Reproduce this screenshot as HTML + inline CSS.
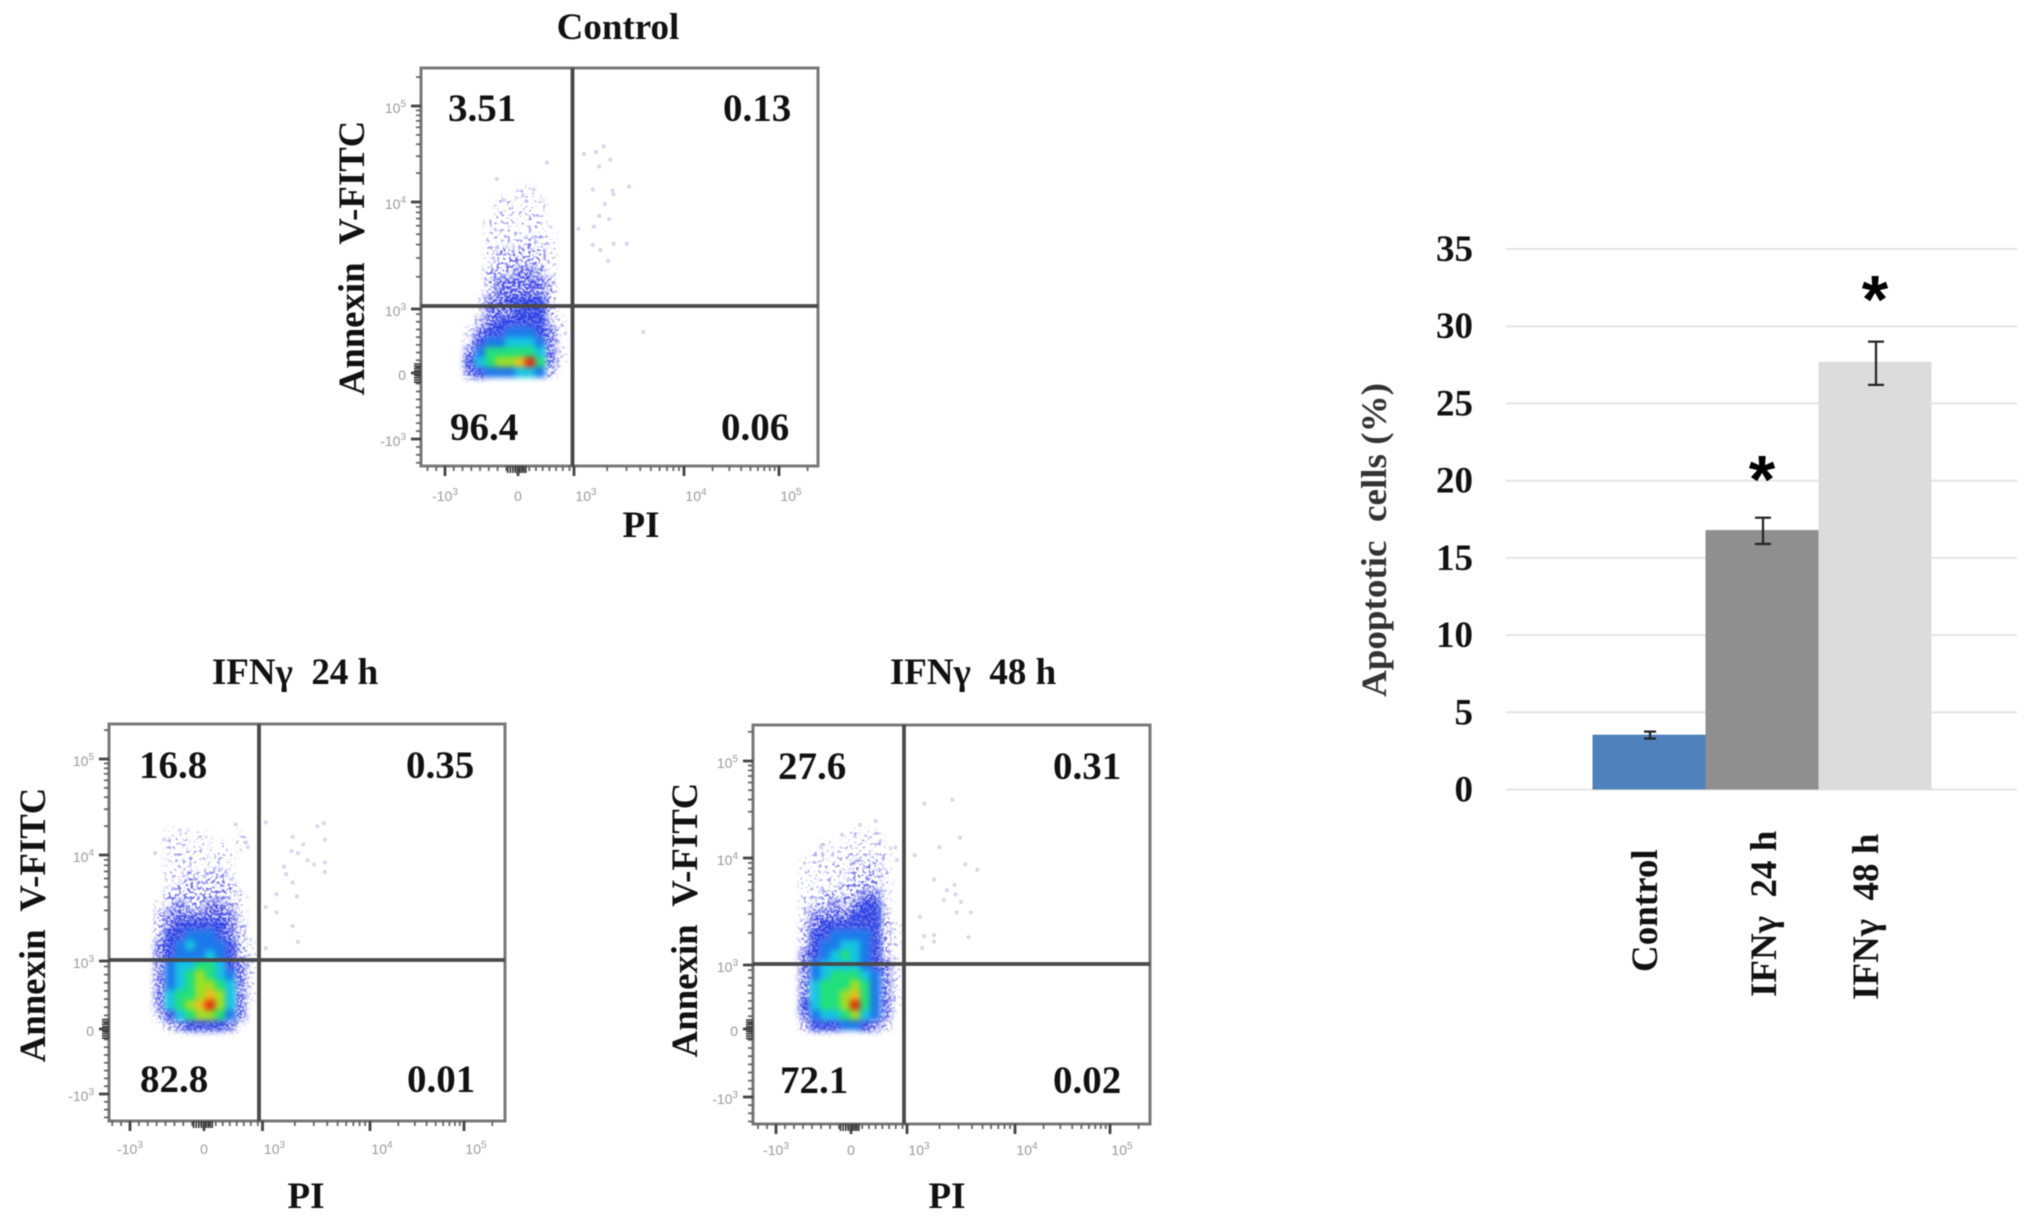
<!DOCTYPE html>
<html lang="en">
<head>
<meta charset="utf-8">
<title>Apoptosis flow cytometry and bar chart</title>
<style>
html,body{margin:0;padding:0;background:#fff;}
#figure{display:block;width:2031px;height:1226px;filter:blur(0.6px);}
text{font-family:"Liberation Serif","Noto Serif CJK SC",serif;font-weight:bold;fill:#111;white-space:pre;}
</style>
</head>
<body>
<svg id="figure" xmlns="http://www.w3.org/2000/svg" width="2031" height="1226" viewBox="0 0 2031 1226">
<defs>
<filter id="speckle-sparse" x="-30%" y="-30%" width="160%" height="160%" color-interpolation-filters="sRGB">
<feGaussianBlur in="SourceGraphic" stdDeviation="3" result="soft"/>
<feTurbulence type="fractalNoise" baseFrequency="0.28" numOctaves="2" seed="11" result="noise"/>
<feColorMatrix in="noise" type="matrix" values="0 0 0 0 0  0 0 0 0 0  0 0 0 0 0  8 0 0 0 -4.6" result="mask"/>
<feComposite in="soft" in2="mask" operator="in"/>
</filter>
<filter id="speckle-mid" x="-30%" y="-30%" width="160%" height="160%" color-interpolation-filters="sRGB">
<feGaussianBlur in="SourceGraphic" stdDeviation="3" result="soft"/>
<feTurbulence type="fractalNoise" baseFrequency="0.32" numOctaves="2" seed="5" result="noise"/>
<feColorMatrix in="noise" type="matrix" values="0 0 0 0 0  0 0 0 0 0  0 0 0 0 0  8 0 0 0 -4.0" result="mask"/>
<feComposite in="soft" in2="mask" operator="in"/>
</filter>
<filter id="speckle-dense" x="-30%" y="-30%" width="160%" height="160%" color-interpolation-filters="sRGB">
<feGaussianBlur in="SourceGraphic" stdDeviation="3.4" result="soft"/>
<feTurbulence type="fractalNoise" baseFrequency="0.38" numOctaves="2" seed="7" result="noise"/>
<feColorMatrix in="noise" type="matrix" values="0 0 0 0 0  0 0 0 0 0  0 0 0 0 0  7 0 0 0 -2.9" result="mask"/>
<feComposite in="soft" in2="mask" operator="in"/>
</filter>
<filter id="smooth" x="-20%" y="-20%" width="140%" height="140%" color-interpolation-filters="sRGB">
<feGaussianBlur stdDeviation="3"/>
</filter>
</defs>
<rect x="0" y="0" width="2031" height="1226" fill="#fff"/>
<g id="flow-layer"></g>
<g id="bar-layer"></g>
</svg>
<script>
// ---- Flow cytometry data (density levels 0-10, points in axis units: 1 = 10^3, 2 = 10^4, 3 = 10^5) ----
const flowTickUnits = [-1, 0, 1, 2, 3];
const flowTickBase = ["-10", "0", "10", "10", "10"];
const flowTickExp = ["3", "", "3", "4", "5"];

const controlDensity = [
[0,0,0,0,0,0,0,0,0,0],
[0,0,0,0,0,0,0,0,0,0],
[0,0,0,0,0,1,1,0,0,0],
[0,0,0,1,1,0,1,1,0,0],
[0,0,0,1,1,1,1,1,0,0],
[0,0,1,1,1,1,1,1,0,0],
[0,0,1,1,1,1,1,1,1,0],
[0,0,1,1,1,1,2,1,1,0],
[0,0,1,2,2,2,2,2,1,0],
[0,0,1,2,2,2,2,2,1,0],
[0,0,2,2,2,3,3,2,1,0],
[0,0,2,3,3,3,3,3,2,0],
[0,0,2,3,3,3,3,3,2,0],
[0,1,3,3,4,4,4,4,2,0],
[0,1,3,3,3,4,4,4,2,0],
[0,2,3,4,4,4,4,4,2,1],
[1,3,4,4,5,5,5,4,3,1],
[2,4,5,5,6,6,6,5,3,1],
[3,5,7,7,7,7,7,6,3,1],
[4,6,7,8,8,9,10,7,3,1],
[3,4,5,5,5,6,6,5,2,0]
];
const controlPointsX = [1.09,1.20,1.27,1.33,1.23,1.50,1.17,1.35,1.36,1.28,1.23,1.32,1.18,1.04,1.17,1.36,1.24,1.48,1.31,1.63,0.52,-0.29,0.28,0.09,-0.20];
const controlPointsY = [2.50,2.52,2.58,2.44,2.37,2.16,2.13,2.12,2.08,1.98,1.87,1.84,1.77,1.75,1.60,1.61,1.55,1.61,1.45,0.64,2.41,2.24,2.13,2.07,2.02];

const ifn24Density = [
[0,1,1,1,1,0,0,0,1,0],
[0,1,1,1,1,1,1,0,1,0],
[0,1,1,1,1,1,1,1,0,0],
[0,1,1,1,1,1,1,1,0,0],
[0,1,1,2,1,2,2,1,0,0],
[0,1,2,2,2,2,2,2,0,0],
[0,2,2,2,2,2,2,2,1,0],
[1,2,3,2,2,3,3,2,1,0],
[2,3,3,3,3,3,3,3,1,0],
[2,3,4,4,4,4,4,3,2,0],
[2,4,4,5,5,5,4,3,2,0],
[3,4,5,6,5,5,5,4,2,1],
[3,4,5,5,5,6,5,4,2,1],
[3,5,6,6,7,7,6,4,3,1],
[3,5,6,7,8,7,6,5,3,1],
[3,5,6,7,8,8,7,6,3,1],
[3,6,7,7,8,9,8,6,3,1],
[3,6,7,8,9,10,8,6,3,0],
[2,4,6,7,8,8,7,5,3,0],
[0,2,3,4,4,4,4,3,1,0]
];
const ifn24PointsX = [1.03,1.57,1.51,1.28,1.38,1.27,1.33,1.42,1.48,1.20,1.22,1.28,1.13,1.32,1.03,1.13,1.28,1.33,1.03,1.58,1.58,1.58,0.54,0.75,0.72,-0.66,-0.54];
const ifn24PointsY = [2.34,2.33,2.30,2.19,2.11,2.04,2.02,1.95,1.91,1.89,1.82,1.74,1.63,1.61,1.51,1.46,1.33,1.18,1.12,2.16,1.93,1.84,2.32,2.08,2.13,2.02,2.16];

const ifn48Density = [
[0,0,0,0,0,1,1,1,0,0],
[0,0,1,0,1,1,1,1,1,0],
[0,1,1,1,1,1,1,1,1,0],
[1,1,1,1,1,2,2,2,1,0],
[1,1,1,1,1,2,2,2,1,0],
[1,1,1,1,2,2,2,2,1,0],
[1,1,2,2,2,2,3,3,1,0],
[1,2,2,3,2,3,4,4,1,0],
[1,3,3,3,3,4,4,4,2,0],
[2,3,4,4,4,4,4,4,2,1],
[2,4,4,5,5,5,5,4,2,1],
[2,4,5,5,6,6,5,4,2,1],
[3,4,5,6,7,6,5,4,2,1],
[3,5,6,6,6,6,5,4,3,1],
[3,5,6,7,7,7,6,5,3,1],
[3,6,7,7,7,8,7,5,3,1],
[3,6,7,7,8,9,7,5,3,1],
[4,6,7,7,8,10,7,5,3,1],
[3,5,6,6,7,8,6,5,3,0],
[2,4,4,4,5,5,4,3,2,0]
];
const ifn48PointsX = [1.16,1.42,1.49,1.30,1.07,1.54,1.65,1.25,1.44,1.37,1.45,1.34,1.50,1.46,1.59,1.12,1.16,1.25,1.57,1.14,1.25,0.44,0.16,-0.12,-0.40,0.79,0.82];
const ifn48PointsY = [2.56,2.60,2.21,2.11,2.03,1.94,1.89,1.80,1.75,1.70,1.66,1.61,1.59,1.49,1.49,1.45,1.27,1.28,1.26,1.16,1.22,2.38,2.34,2.24,2.11,2.11,1.98];

const controlQuadrants = ["3.51", "0.13", "96.4", "0.06"];
const ifn24Quadrants = ["16.8", "0.35", "82.8", "0.01"];
const ifn48Quadrants = ["27.6", "0.31", "72.1", "0.02"];

// ---- Bar chart data ----
const barCategories = ["Control", "IFNγ  24 h", "IFNγ  48 h"];
const barValues = [3.55, 16.8, 27.7];
const barErrLow = [3.3, 15.9, 26.2];
const barErrHigh = [3.75, 17.6, 29.0];
const barStars = ["", "*", "*"];
const barStarLevels = [0, 18.57, 30.25];
const barTicks = [0, 5, 10, 15, 20, 25, 30, 35];

const densityColors = ["none","#a4a4f2","#7474ec","#4a50e6","#2b3fe2","#1c78ea","#16c4e4","#22e07c","#9ee024","#f0bc1e","#e62c10"];
const NS = "http://www.w3.org/2000/svg";

function mk(parent, tag, attrs, txt) {
  const el = document.createElementNS(NS, tag);
  for (const k in attrs) el.setAttribute(k, attrs[k]);
  if (txt !== undefined) el.textContent = txt;
  parent.appendChild(el);
  return el;
}
function piecewise(units, pixels) {
  return function (u) {
    let i = 0;
    while (i < units.length - 2 && u > units[i + 1]) i++;
    return pixels[i] + (u - units[i]) * (pixels[i + 1] - pixels[i]) / (units[i + 1] - units[i]);
  };
}
function minorUnits() {
  const out = [];
  for (let d = 1; d <= 2; d++) for (let k = 2; k < 10; k++) out.push(d + Math.log10(k));
  for (let k = 2; k < 6; k++) out.push(3 + Math.log10(k));
  for (let t = -1.6; t < 1; t += 0.12) out.push(t);
  return out;
}
function clumpUnits() {
  const out = [];
  for (let t = -0.14; t <= 0.14; t += 0.035) out.push(t);
  return out;
}

const flowPanels = [
  { id: "control", title: "Control", titleX: 618, titleY: 39,
    box: [421, 68, 818, 466], vLine: 572.5, hLine: 306,
    xPix: [445, 518, 574, 684, 779], yPix: [439, 373, 309, 202, 106],
    density: controlDensity, gridX: 465, gridY: 167,
    px: controlPointsX, py: controlPointsY, quad: controlQuadrants,
    quadPos: [[448,121],[723,121],[450,440],[721,440]],
    yTitle: [364, 258], piX: 641, piY: 537, tickLabelY: 501 },
  { id: "ifn-24h", title: "IFNγ  24 h", titleX: 295, titleY: 684,
    box: [109, 724, 505, 1121], vLine: 259, hLine: 960,
    xPix: [130, 204, 262.5, 370, 464], yPix: [1094, 1029, 961, 855, 759],
    density: ifn24Density, gridX: 155, gridY: 830,
    px: ifn24PointsX, py: ifn24PointsY, quad: ifn24Quadrants,
    quadPos: [[139,778],[406,778],[140,1092],[407,1092]],
    yTitle: [45, 925], piX: 306, piY: 1208, tickLabelY: 1154 },
  { id: "ifn-48h", title: "IFNγ  48 h", titleX: 973, titleY: 684,
    box: [753, 725, 1150, 1124], vLine: 904, hLine: 964,
    xPix: [776, 851, 907, 1015, 1110], yPix: [1097, 1029, 965, 858, 761],
    density: ifn48Density, gridX: 800, gridY: 830,
    px: ifn48PointsX, py: ifn48PointsY, quad: ifn48Quadrants,
    quadPos: [[778,779],[1053,779],[780,1093],[1053,1093]],
    yTitle: [697, 920], piX: 947, piY: 1208, tickLabelY: 1155 }
];

function drawPanel(p) {
  const root = document.getElementById("flow-layer");
  const g = mk(root, "g", {});
  
  
  const [l, t, r, b] = p.box;
  const xS = piecewise(flowTickUnits, p.xPix);
  const yS = piecewise(flowTickUnits, p.yPix);

  const title = mk(g, "text", { x: p.titleX, y: p.titleY, "text-anchor": "middle", "font-size": 37 }, p.title);
  
  

  // density cloud
  const sparse = mk(g, "g", { filter: "url(#speckle-sparse)" });
  
  
  const mid = mk(g, "g", { filter: "url(#speckle-mid)" });
  
  
  const dense = mk(g, "g", { filter: "url(#speckle-dense)" });
  
  
  const core = mk(g, "g", { filter: "url(#smooth)" });
  
  
  const cellSize = 10;
  p.density.forEach(function (row, ri) {
    row.forEach(function (level, ci) {
      if (level <= 0) return;
      const target = level === 1 ? sparse : level === 2 ? mid : level <= 4 ? dense : core;
      const cell = mk(target, "rect", {
        x: p.gridX + ci * cellSize, y: p.gridY + ri * cellSize,
        width: cellSize + 0.5, height: cellSize + 0.5,
        fill: densityColors[level]
      });
      
      
      if (level === 4 || level === 3) {
        const under = mk(core, "rect", {
          x: p.gridX + ci * cellSize, y: p.gridY + ri * cellSize,
          width: cellSize + 0.5, height: cellSize + 0.5,
          fill: densityColors[level], opacity: level === 4 ? 0.7 : 0.2
        });
        
        
      }
    });
  });

  // outlier events
  p.px.forEach(function (u, i) {
    const dot = mk(g, "circle", { cx: xS(u), cy: yS(p.py[i]), r: 2.1, fill: "#bcbce6", opacity: 0.6 });
    
    
  });

  // frame
  const frame = mk(g, "rect", { x: l, y: t, width: r - l, height: b - t, fill: "none", stroke: "#787878", "stroke-width": 3 });
  
  

  // minor ticks
  minorUnits().forEach(function (u) {
    const tx = xS(u), ty = yS(u);
    if (tx > l && tx < r) {
      const mt = mk(g, "line", { x1: tx, x2: tx, y1: b, y2: b + 5, stroke: "#666", "stroke-width": 1.8 });
      
      
    }
    if (ty > t && ty < b) {
      const mt = mk(g, "line", { x1: l - 5, x2: l, y1: ty, y2: ty, stroke: "#666", "stroke-width": 1.8 });
      
      
    }
  });
  clumpUnits().forEach(function (u) {
    const tx = xS(u), ty = yS(u);
    const cx = mk(g, "line", { x1: tx, x2: tx, y1: b, y2: b + 7, stroke: "#333", "stroke-width": 1.6 });
    
    
    const cy = mk(g, "line", { x1: l - 7, x2: l, y1: ty, y2: ty, stroke: "#333", "stroke-width": 1.6 });
    
    
  });

  // major ticks + labels
  const tickStyle = "fill:#9a9a9a;font-weight:normal;font-family:'Liberation Sans',sans-serif";
  flowTickUnits.forEach(function (u, i) {
    const tx = xS(u), ty = yS(u);
    const xt = mk(g, "line", { x1: tx, x2: tx, y1: b, y2: b + 10, stroke: "#444", "stroke-width": 2.8 });
    
    
    const yt = mk(g, "line", { x1: l - 10, x2: l, y1: ty, y2: ty, stroke: "#444", "stroke-width": 2.8 });
    
    

    const xl = mk(g, "text", { x: tx + (i >= 2 ? 12 : 0), y: p.tickLabelY, "text-anchor": "middle", "font-size": 14, style: tickStyle }, flowTickBase[i]);
    
    
    const yl = mk(g, "text", { x: l - 15, y: ty + 7, "text-anchor": "end", "font-size": 14, style: tickStyle }, flowTickBase[i]);
    
    
    if (flowTickExp[i]) {
      const sx = mk(xl, "tspan", { dy: -6, "font-size": 10 }, flowTickExp[i]);
      
      
      const sy = mk(yl, "tspan", { dy: -6, "font-size": 10 }, flowTickExp[i]);
      
      
    }
  });

  // quadrant gates
  const vg = mk(g, "line", { x1: p.vLine, x2: p.vLine, y1: t, y2: b, stroke: "#484848", "stroke-width": 3.8 });
  
  
  const hg = mk(g, "line", { x1: l, x2: r, y1: p.hLine, y2: p.hLine, stroke: "#484848", "stroke-width": 3.8 });
  
  

  // quadrant percentages
  p.quad.forEach(function (txt, i) {
    const q = mk(g, "text", { x: p.quadPos[i][0], y: p.quadPos[i][1], "font-size": 39 }, txt);
    
    
  });

  const yT = mk(g, "text", { transform: "translate(" + p.yTitle[0] + "," + p.yTitle[1] + ") rotate(-90)", "text-anchor": "middle", "font-size": 36.8 }, "Annexin  V-FITC");
  
  
  const xT = mk(g, "text", { x: p.piX, y: p.piY, "text-anchor": "middle", "font-size": 37 }, "PI");
  
  
}
flowPanels.forEach(drawPanel);

// ---- Bar chart ----
(function () {
  const root = document.getElementById("bar-layer");
  const plot = { left: 1506, right: 2017, base: 789.5, top: 249, maxV: 35, firstBar: 1592.5, band: 113 };
  const barFills = ["#4f81bd", "#8f8f8f", "#dcdcdc"];
  const labelAnchors = [[1657, 972], [1776, 997], [1878, 1000]];
  const y = function (v) { return plot.base - (v / plot.maxV) * (plot.base - plot.top); };
  const x = function (i) { return plot.firstBar + i * plot.band; };

  barTicks.forEach(function (t) {
    const gl = mk(root, "line", { x1: plot.left, x2: plot.right, y1: y(t), y2: y(t), stroke: "#e4e4e4", "stroke-width": 2 });
    
    
    const tl = mk(root, "text", { x: 1473, y: y(t) + 12, "text-anchor": "end", "font-size": 37 }, String(t));
    
    
  });

  barValues.forEach(function (v, i) {
    const bar = mk(root, "rect", { x: x(i), y: y(v), width: plot.band, height: plot.base - y(v), fill: barFills[i] });
    
    
  });

  barValues.forEach(function (v, i) {
    const c = x(i) + plot.band / 2 + 1;
    const cap = i === 0 ? 6 : 8;
    const s = mk(root, "line", { x1: c, x2: c, y1: y(barErrHigh[i]), y2: y(barErrLow[i]), stroke: "#222", "stroke-width": 2.2 });
    
    
    [barErrHigh[i], barErrLow[i]].forEach(function (ev) {
      const h = mk(root, "line", { x1: c - cap, x2: c + cap, y1: y(ev), y2: y(ev), stroke: "#222", "stroke-width": 2.2 });
      
      
    });
    if (barStars[i]) {
      const st = mk(root, "text", { x: c - 1, y: y(barStarLevels[i]), "text-anchor": "middle", "font-size": 68, style: "font-family:'Liberation Sans',sans-serif;fill:#000" }, barStars[i]);
      
      
    }
    const lab = mk(root, "text", { transform: "translate(" + labelAnchors[i][0] + "," + labelAnchors[i][1] + ") rotate(-90)", "font-size": 37 }, barCategories[i]);
    
    
  });

  const yTitle = mk(root, "text", { transform: "translate(1386,540) rotate(-90)", "text-anchor": "middle", "font-size": 36, textLength: 314, lengthAdjust: "spacingAndGlyphs", style: "fill:#333" }, "Apoptotic  cells (%)");
  
  
})();
</script>
</body>
</html>
